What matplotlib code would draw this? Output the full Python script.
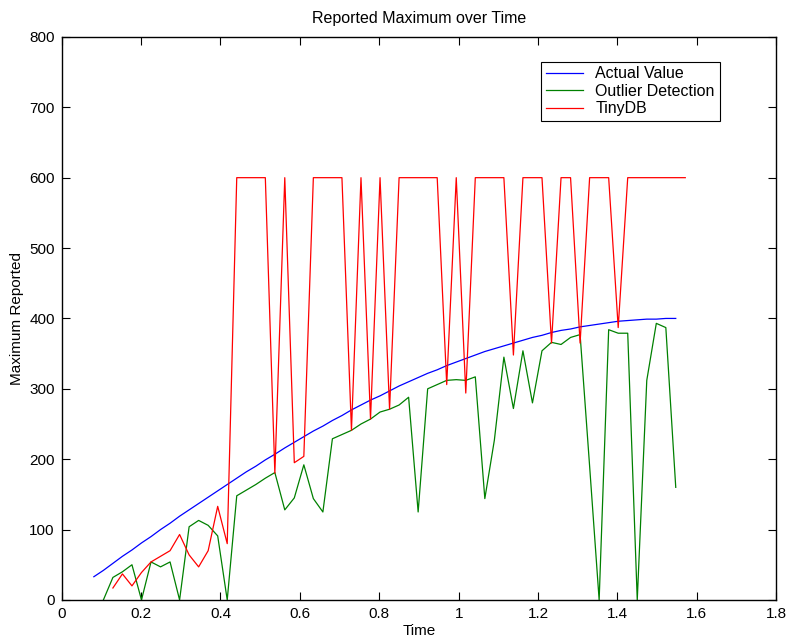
import matplotlib
matplotlib.use('Agg')
import matplotlib.pyplot as plt

plt.rcParams['font.family'] = ['Liberation Sans', 'DejaVu Sans']

# sample times (common grid)
time = [0.081, 0.105, 0.129, 0.153, 0.177, 0.201, 0.225, 0.249, 0.273, 0.297,
        0.321, 0.345, 0.369, 0.393, 0.417, 0.441, 0.465, 0.489, 0.513, 0.537,
        0.562, 0.586, 0.610, 0.634, 0.658, 0.682, 0.706, 0.730, 0.754, 0.778,
        0.802, 0.826, 0.850, 0.874, 0.898, 0.922, 0.946, 0.970, 0.994, 1.018,
        1.042, 1.066, 1.090, 1.114, 1.138, 1.162, 1.186, 1.210, 1.234, 1.258,
        1.282, 1.306, 1.330, 1.354, 1.378, 1.402, 1.426, 1.450, 1.474, 1.498,
        1.522, 1.547, 1.571]

actual = [33, 42, 52, 62, 71, 81, 90, 100, 109, 119,
          128, 137, 146, 155, 164, 173, 182, 190, 199, 207,
          216, 224, 232, 240, 247, 255, 262, 270, 277, 284,
          290, 297, 304, 310, 316, 322, 327, 333, 338, 343,
          348, 353, 357, 361, 365, 369, 373, 376, 380, 383,
          385, 388, 390, 392, 394, 396, 397, 398, 399, 399,
          400, 400]

outlier = [0, 32, 40, 50, 0, 54, 47, 54, 0,
           104, 113, 106, 91, 0, 148, 156, 164, 173, 181,
           128, 145, 192, 144, 125, 229, 235, 241, 250, 257,
           267, 271, 277, 288, 125, 300, 306, 312, 313, 312,
           317, 144, 227, 345, 272, 354, 280, 354, 366, 363,
           373, 377, 190, 0, 384, 379, 379, 0, 312, 393,
           387, 160]

tinydb = [17, 37, 20, 39, 54, 62, 70, 93,
          64, 47, 70, 133, 80, 600, 600, 600, 600, 180,
          600, 195, 204, 600, 600, 600, 600, 241, 600, 257,
          600, 271, 600, 600, 600, 600, 600, 306, 600, 294,
          600, 600, 600, 600, 348, 600, 600, 600, 365, 600,
          600, 365, 600, 600, 600, 387, 600, 600, 600, 600,
          600, 600, 600]

fig = plt.figure(figsize=(7.86, 6.42), dpi=100)
ax = fig.add_axes([0.0785, 0.0655, 0.909, 0.877])

ax.plot(time[:len(actual)], actual, color='#0000ff', lw=0.9, label='Actual Value')
ax.plot(time[1:1 + len(outlier)], outlier, color='#008000', lw=0.9, label='Outlier Detection')
ax.plot(time[2:2 + len(tinydb)], tinydb, color='#ff0000', lw=0.9, label='TinyDB')

ax.set_xlim(0, 1.8)
ax.set_ylim(0, 800)
ax.set_xticks([0, 0.2, 0.4, 0.6, 0.8, 1.0, 1.2, 1.4, 1.6, 1.8])
ax.set_xticklabels(['0', '0.2', '0.4', '0.6', '0.8', '1', '1.2', '1.4', '1.6', '1.8'])
ax.set_yticks(range(0, 801, 100))
ax.tick_params(direction='in', length=6, width=0.8, top=True, right=True,
               labelsize=11, pad=5)
for s in ax.spines.values():
    s.set_linewidth(1.0)

ax.set_title('Reported Maximum over Time', fontsize=11.5, pad=10)
ax.set_xlabel('Time', fontsize=11, labelpad=2)
ax.set_ylabel('Maximum Reported', fontsize=11, labelpad=4)

leg = ax.legend(loc='upper left', bbox_to_anchor=(0.671, 0.956), borderaxespad=0,
                fontsize=11.5, fancybox=False, framealpha=1, handlelength=2.3,
                handletextpad=0.8, borderpad=0.3, labelspacing=0.15)
leg.get_frame().set_edgecolor('black')
leg.get_frame().set_linewidth(0.8)

fig.savefig('out.png', dpi=100)
